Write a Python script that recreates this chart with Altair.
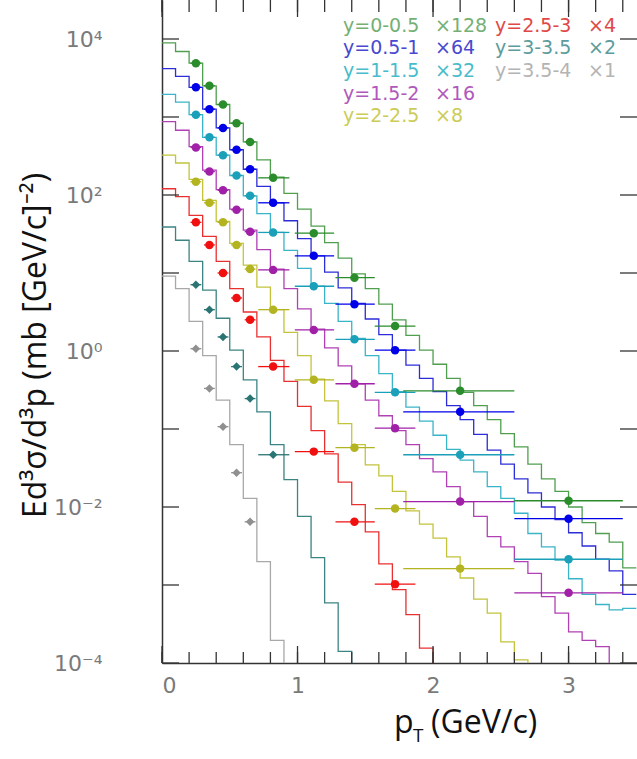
import altair as alt
import pandas as pd

# ---------------- data ----------------
BIN_LO = [0.0, 0.1, 0.2, 0.3, 0.4, 0.5, 0.6, 0.7, 0.8, 0.9, 1.0, 1.1, 1.2, 1.3, 1.4,
          1.5, 1.6, 1.7, 1.8, 1.9, 2.0, 2.1, 2.2, 2.3, 2.4, 2.5, 2.6, 2.7, 2.8, 2.9,
          3.0, 3.1, 3.2, 3.3, 3.4, 3.5]

PT_PTS = [0.25, 0.35, 0.45, 0.55, 0.65, 0.82, 1.12, 1.42, 1.72, 2.2, 3.0]
PT_LO = [0.21, 0.31, 0.41, 0.51, 0.61, 0.71, 0.98, 1.28, 1.57, 1.78, 2.6]
PT_HI = [0.29, 0.39, 0.49, 0.59, 0.69, 0.94, 1.27, 1.57, 1.87, 2.6, 3.4]

LABELS = ["y=0-0.5", "y=0.5-1", "y=1-1.5", "y=1.5-2", "y=2-2.5", "y=2.5-3", "y=3-3.5", "y=3.5-4"]
FACTORS = ["×128", "×64", "×32", "×16", "×8", "×4", "×2", "×1"]

# model histograms, log10 of the value in each 0.1 GeV/c bin
MODEL_LOG10 = [
    [3.95, 3.84, 3.69, 3.40, 3.16, 2.92, 2.68, 2.45, 2.23, 2.02, 1.82, 1.60, 1.39, 1.19, 0.99,
     0.80, 0.60, 0.40, 0.20, 0.01, -0.17, -0.35, -0.53, -0.70, -0.88, -1.06, -1.23, -1.45,
     -1.64, -1.80, -2.00, -2.20, -2.34, -2.45, -2.78],
    [3.62, 3.52, 3.38, 3.10, 2.86, 2.58, 2.33, 2.11, 1.90, 1.67, 1.44, 1.22, 1.01, 0.81, 0.61,
     0.41, 0.21, 0.01, -0.18, -0.35, -0.52, -0.70, -0.88, -1.07, -1.27, -1.45, -1.64, -1.82,
     -2.00, -2.16, -2.33, -2.50, -2.67, -2.82, -3.12],
    [3.29, 3.19, 3.03, 2.74, 2.51, 2.25, 1.99, 1.76, 1.52, 1.29, 1.06, 0.83, 0.61, 0.38, 0.16,
     -0.06, -0.29, -0.52, -0.72, -0.90, -1.08, -1.26, -1.40, -1.55, -1.74, -1.89, -2.08, -2.34,
     -2.51, -2.68, -2.92, -3.12, -3.25, -3.32, -3.30],
    [2.94, 2.83, 2.62, 2.32, 2.07, 1.82, 1.55, 1.30, 1.05, 0.80, 0.54, 0.28, 0.04, -0.19, -0.42,
     -0.63, -0.83, -1.02, -1.20, -1.38, -1.55, -1.74, -1.93, -2.12, -2.38, -2.51, -2.70, -2.85,
     -3.15, -3.36, -3.60, -3.71, -3.79],
    [2.51, 2.41, 2.20, 1.93, 1.66, 1.38, 1.10, 0.82, 0.53, 0.24, -0.06, -0.36, -0.64, -0.93,
     -1.20, -1.46, -1.60, -1.80, -2.05, -2.22, -2.40, -2.64, -2.91, -3.18, -3.36, -3.73, -3.96],
    [2.08, 1.98, 1.74, 1.47, 1.15, 0.80, 0.50, 0.18, -0.12, -0.39, -0.71, -1.02, -1.32, -1.68,
     -1.97, -2.32, -2.73, -3.06, -3.38, -3.81],
    [1.59, 1.42, 1.15, 0.78, 0.42, 0.01, -0.37, -0.78, -1.20, -1.65, -2.12, -2.65, -3.23, -3.85],
    [0.96, 0.80, 0.38, -0.06, -0.63, -1.20, -1.89, -2.70, -3.71],
]

# model uncertainty band: first bin index and half-width (decades) per bin
BAND_START = [24, 23, 24, 19, 19, 15, 11, 7]
BAND_HW = [
    [0.02, 0.03, 0.04, 0.05, 0.06, 0.07, 0.07, 0.08, 0.09, 0.10, 0.15],
    [0.02, 0.03, 0.04, 0.05, 0.05, 0.06, 0.07, 0.08, 0.09, 0.10, 0.12, 0.15],
    [0.03, 0.04, 0.05, 0.05, 0.06, 0.07, 0.08, 0.10, 0.12, 0.14, 0.18],
    [0.02, 0.03, 0.03, 0.04, 0.05, 0.06, 0.07, 0.08, 0.10, 0.12, 0.16, 0.20, 0.15, 0.12],
    [0.03, 0.04, 0.05, 0.07, 0.10, 0.10, 0.10, 0.10],
    [0.03, 0.05, 0.05, 0.06, 0.06],
    [0.03, 0.05, 0.05],
    [0.03, 0.04],
]

# data points, log10 of the value
DATA_LOG10 = [
    [3.69, 3.40, 3.16, 2.92, 2.68, 2.22, 1.51, 0.94, 0.32, -0.51, -1.92],
    [3.38, 3.10, 2.86, 2.58, 2.33, 1.90, 1.22, 0.60, 0.01, -0.78, -2.15],
    [3.03, 2.74, 2.51, 2.25, 1.99, 1.52, 0.83, 0.15, -0.53, -1.33, -2.67],
    [2.61, 2.30, 2.06, 1.81, 1.53, 1.04, 0.27, -0.42, -0.99, -1.93, -3.10],
    [2.17, 1.90, 1.65, 1.36, 1.05, 0.53, -0.37, -1.24, -2.02, -2.79],
    [1.65, 1.36, 1.00, 0.68, 0.40, -0.20, -1.29, -2.19, -2.99],
    [0.85, 0.53, 0.18, -0.20, -0.61, -1.33],
    [0.03, -0.48, -0.97, -1.56, -2.19],
]
SHAPES = ["circle", "circle", "circle", "circle", "circle", "circle", "diamond", "diamond"]

LINE_COL = ["#4f9f4f", "#2c2cd8", "#3ab4c8", "#b040b4", "#c4c43c", "#e83030", "#3c8484", "#a8a8a8"]
PT_COL = ["#2a8c2a", "#0000e8", "#1aa0b8", "#a020a8", "#b4b420", "#f01010", "#2a7474", "#909090"]
TXT_COL = ["#74b074", "#4848d0", "#48bccc", "#b058bc", "#cccc58", "#e04848", "#5c9c9c", "#b4b4b4"]

X_MINOR = [0.0, 0.2, 0.4, 0.6, 0.8, 1.0, 1.2, 1.4, 1.6, 1.8, 2.0, 2.2, 2.4, 2.6, 2.8, 3.0, 3.2, 3.4]
X_MAJOR = [0, 1, 2, 3]
Y_DECADES = [1e-4, 1e-3, 1e-2, 1e-1, 1, 1e1, 1e2, 1e3, 1e4]
Y_LABELED = [1e-4, 1e-2, 1, 1e2, 1e4]

# ---------------- build tables ----------------
W, H = 475, 663
XMAX = 3.505
YMIN, YMAX = 1e-4, 10 ** 4.5

model_rows, band_rows, pt_rows = [], [], []
for s, vals in enumerate(MODEL_LOG10):
    n = len(vals)
    for i, v in enumerate(vals):
        model_rows.append(dict(s=s, c=LINE_COL[s], x=BIN_LO[i], y=10 ** v, o=i))
    end_y = 10 ** vals[-1] if n == 35 else 1e-6
    model_rows.append(dict(s=s, c=LINE_COL[s], x=BIN_LO[n], y=end_y, o=n))
    st = BAND_START[s]
    hw = BAND_HW[s]
    for k, h in enumerate(hw):
        v = vals[st + k]
        band_rows.append(dict(s=s, c=LINE_COL[s], x=BIN_LO[st + k], lo=10 ** (v - h), hi=10 ** (v + h), o=k))
    v = vals[st + len(hw) - 1]
    band_rows.append(dict(s=s, c=LINE_COL[s], x=BIN_LO[st + len(hw)], lo=10 ** (v - hw[-1]),
                          hi=10 ** (v + hw[-1]), o=len(hw)))
for s, vals in enumerate(DATA_LOG10):
    for i, v in enumerate(vals):
        pt_rows.append(dict(s=s, c=PT_COL[s], sh=SHAPES[s], x=PT_PTS[i], xlo=PT_LO[i],
                            xhi=PT_HI[i], y=10 ** v))

model_df = pd.DataFrame(model_rows)
band_df = pd.DataFrame(band_rows)
pt_df = pd.DataFrame(pt_rows)

xs = alt.Scale(domain=[0, XMAX], nice=False, zero=False)
ys = alt.Scale(type="log", domain=[YMIN, YMAX], nice=False)

label_expr = ("datum.value > 5000 ? '10⁴' : datum.value > 50 ? '10²' : datum.value > 0.5 ? '10⁰' : "
              "datum.value > 0.005 ? '10⁻²' : '10⁻⁴'")

x_axis = alt.Axis(values=X_MAJOR, ticks=False, grid=False, domain=True, domainColor="#333",
                  domainWidth=1.5, labelFont="DejaVu Sans", labelFontSize=22, labelColor="#7a7a7a",
                  labelPadding=12, title=None, format="d")
y_axis = alt.Axis(values=Y_LABELED, ticks=False, grid=False, domain=True, domainColor="#333",
                  domainWidth=1.5, labelFont="DejaVu Sans", labelFontSize=22, labelColor="#7a7a7a",
                  labelPadding=60, labelExpr=label_expr,
                  title="Ed³σ/d³p (mb [GeV/c]⁻²)", titleFont="Open Sans", titleFontSize=32,
                  titleFontWeight="normal", titleColor="#111", titleAngle=270, titleX=-127,
                  titleY=345, titleAlign="center", titleBaseline="middle")

band = alt.Chart(band_df).mark_area(interpolate="step-after", opacity=0.6, clip=True).encode(
    x=alt.X("x:Q", scale=xs, axis=x_axis),
    y=alt.Y("lo:Q", scale=ys, axis=y_axis),
    y2="hi:Q",
    color=alt.Color("c:N", scale=None),
    detail="s:N",
    order="o:Q",
)

lines = alt.Chart(model_df).mark_line(interpolate="step-after", strokeWidth=1.3, clip=True).encode(
    x=alt.X("x:Q", scale=xs),
    y=alt.Y("y:Q", scale=ys),
    color=alt.Color("c:N", scale=None),
    detail="s:N",
    order="o:Q",
)

bars = alt.Chart(pt_df).mark_rule(strokeWidth=1.3).encode(
    x=alt.X("xlo:Q", scale=xs),
    x2="xhi:Q",
    y=alt.Y("y:Q", scale=ys),
    color=alt.Color("c:N", scale=None),
)

points = alt.Chart(pt_df).mark_point(filled=True, size=72, opacity=1).encode(
    x=alt.X("x:Q", scale=xs),
    y=alt.Y("y:Q", scale=ys),
    color=alt.Color("c:N", scale=None),
    shape=alt.Shape("sh:N", scale=None),
)

tick_col = "#333"
xminor_df = pd.DataFrame({"v": X_MINOR})
xmajor_df = pd.DataFrame({"v": X_MAJOR})
ydec_df = pd.DataFrame({"v": Y_DECADES})

t_bot_minor = alt.Chart(xminor_df).mark_rule(color=tick_col, strokeWidth=1.3).encode(
    x=alt.X("v:Q", scale=xs), y=alt.value(H), y2=alt.value(H - 11))
t_bot_major = alt.Chart(xmajor_df).mark_rule(color=tick_col, strokeWidth=1.3).encode(
    x=alt.X("v:Q", scale=xs), y=alt.value(H), y2=alt.value(H - 17))
t_top_minor = alt.Chart(xminor_df).mark_rule(color=tick_col, strokeWidth=1.3).encode(
    x=alt.X("v:Q", scale=xs), y=alt.value(0), y2=alt.value(12))
t_top_major = alt.Chart(xmajor_df).mark_rule(color=tick_col, strokeWidth=1.3).encode(
    x=alt.X("v:Q", scale=xs), y=alt.value(0), y2=alt.value(17))
t_left = alt.Chart(ydec_df).mark_rule(color=tick_col, strokeWidth=1.3).encode(
    y=alt.Y("v:Q", scale=ys), x=alt.value(0), x2=alt.value(17))
t_right = alt.Chart(ydec_df).mark_rule(color=tick_col, strokeWidth=1.3).encode(
    y=alt.Y("v:Q", scale=ys), x=alt.value(W), x2=alt.value(W - 17))

one = pd.DataFrame({"a": [0]})
texts = []
# legend: two columns
ROW_Y = [26, 48, 71, 94, 116]
for s in range(8):
    col = 0 if s < 5 else 1
    row = s if s < 5 else s - 5
    lx = 181 if col == 0 else 333
    fx = 273 if col == 0 else 426
    for txt, px in ((LABELS[s], lx), (FACTORS[s], fx)):
        texts.append(alt.Chart(one).mark_text(
            text=txt, align="left", baseline="middle", font="DejaVu Sans", fontSize=19,
            color=TXT_COL[s]).encode(x=alt.value(px), y=alt.value(ROW_Y[row])))

# x title with subscript
texts.append(alt.Chart(one).mark_text(text="p", align="left", baseline="alphabetic",
                                      font="Open Sans", fontSize=32, color="#111").encode(
    x=alt.value(232), y=alt.value(733)))
texts.append(alt.Chart(one).mark_text(text="T", align="left", baseline="alphabetic",
                                      font="Open Sans", fontSize=19, color="#111").encode(
    x=alt.value(251), y=alt.value(742)))
texts.append(alt.Chart(one).mark_text(text="(GeV/c)", align="left", baseline="alphabetic",
                                      font="Open Sans", fontSize=32, color="#111").encode(
    x=alt.value(269), y=alt.value(733)))

chart = alt.layer(
    band, lines, bars, points,
    t_bot_minor, t_bot_major, t_top_minor, t_top_major, t_left, t_right,
    *texts,
).properties(
    width=W, height=H,
    autosize=alt.AutoSizeParams(type="none"),
    padding={"left": 162, "top": 0, "right": 0, "bottom": 96},
    background="white",
).configure_view(stroke=None)

chart.save("out.html", embed_options={"renderer": "svg", "actions": False})
